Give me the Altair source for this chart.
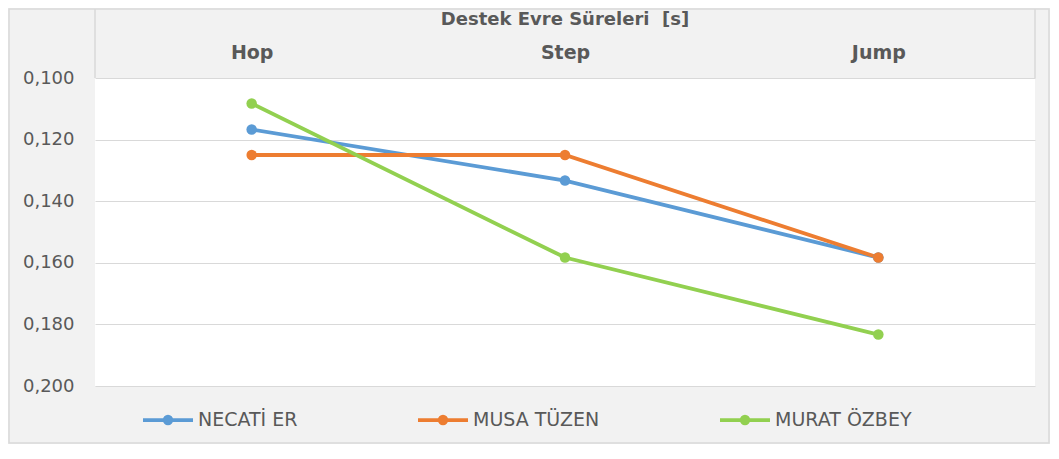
import altair as alt
import pandas as pd

categories = ["Hop", "Step", "Jump"]
series_names = ["NECATİ ER", "MUSA TÜZEN", "MURAT ÖZBEY"]
necati = [0.1167, 0.1333, 0.1583]
musa = [0.1250, 0.1250, 0.1583]
murat = [0.1083, 0.1583, 0.1833]
y_ticks = [0.10, 0.12, 0.14, 0.16, 0.18, 0.20]
colors = ["#5b9bd5", "#ed7d31", "#92d050"]
title_text = "Destek Evre Süreleri \u00a0[s]"

rows = []
for name, vals in zip(series_names, [necati, musa, murat]):
    for c, v in zip(categories, vals):
        rows.append({"faz": c, "kisi": name, "sure": v})
df = pd.DataFrame(rows)

FONT = "DejaVu Sans"
TXT = "#595959"
GRID = "#d9d9d9"
W, H = 940, 308
PL, PT, PR, PB = 87, 70, 15, 58

x_enc = alt.X(
    "faz:N",
    sort=categories,
    scale=alt.Scale(type="point", padding=0.5),
    axis=alt.Axis(
        orient="top", title=None, ticks=False, domain=False, grid=False,
        labelAngle=0, labelFont=FONT, labelFontSize=19, labelFontWeight="bold",
        labelColor=TXT, labelBaseline="middle", labelPadding=26,
    ),
)
y_enc = alt.Y(
    "sure:Q",
    scale=alt.Scale(domain=[0.1, 0.2], reverse=True, nice=False, zero=False),
    axis=alt.Axis(
        values=y_ticks, title=None, ticks=False, domain=False, grid=True,
        gridColor=GRID, gridWidth=1,
        labelExpr="replace(format(datum.value, '.3f'), '.', ',')",
        labelFont=FONT, labelFontSize=18, labelColor=TXT, labelPadding=21,
        labelBaseline="middle",
    ),
)
legend_path = (
    "M-1,0L1,0"
    "M-0.132,0A0.132,0.132,0,1,0,0.132,0A0.132,0.132,0,1,0,-0.132,0"
    "M-0.064,0A0.064,0.064,0,1,0,0.064,0A0.064,0.064,0,1,0,-0.064,0"
)
color_enc = alt.Color(
    "kisi:N",
    sort=series_names,
    scale=alt.Scale(domain=series_names, range=colors),
    legend=alt.Legend(
        title=None, orient="none", direction="horizontal", legendX=46, legendY=315,
        symbolType=legend_path, symbolSize=2500, symbolStrokeWidth=3.8,
        symbolOpacity=1, labelFont=FONT, labelFontSize=19, labelColor=TXT,
        labelOffset=3, columnPadding=112,
    ),
)

base = alt.Chart(df)
lines = base.mark_line(strokeWidth=3.8).encode(x=x_enc, y=y_enc, color=color_enc)
points = base.mark_point(filled=True, size=110, opacity=1).encode(
    x=x_enc, y=y_enc, color=color_enc
)

deco = alt.Data(values=[{"d": 1}])
frame = alt.Chart(deco).mark_rect(
    fillOpacity=0, stroke=GRID, strokeWidth=1.5, clip=False
).encode(
    x=alt.value(-PL + 1), x2=alt.value(W + PR - 1),
    y=alt.value(-PT + 1), y2=alt.value(H + PB - 1),
)
left_rule = alt.Chart(deco).mark_rule(color=GRID, strokeWidth=1.5, clip=False).encode(
    x=alt.value(0), y=alt.value(-PT + 1), y2=alt.value(0)
)
right_rule = alt.Chart(deco).mark_rule(color=GRID, strokeWidth=1.5, clip=False).encode(
    x=alt.value(W), y=alt.value(-PT + 1), y2=alt.value(0)
)
title = alt.Chart(deco).mark_text(
    text=title_text, font=FONT, fontSize=18, fontWeight="bold", color=TXT,
    baseline="middle", align="center", clip=False,
).encode(x=alt.value(W / 2), y=alt.value(-58))

chart = alt.layer(frame, left_rule, right_rule, title, lines, points).properties(
    width=W, height=H,
    autosize=alt.AutoSizeParams(type="none"),
    padding={"left": PL, "top": PT, "right": PR, "bottom": PB},
    background="#f2f2f2",
).configure_view(fill="white", stroke=None)

chart.save("out.html", embed_options={"renderer": "svg", "actions": False})
